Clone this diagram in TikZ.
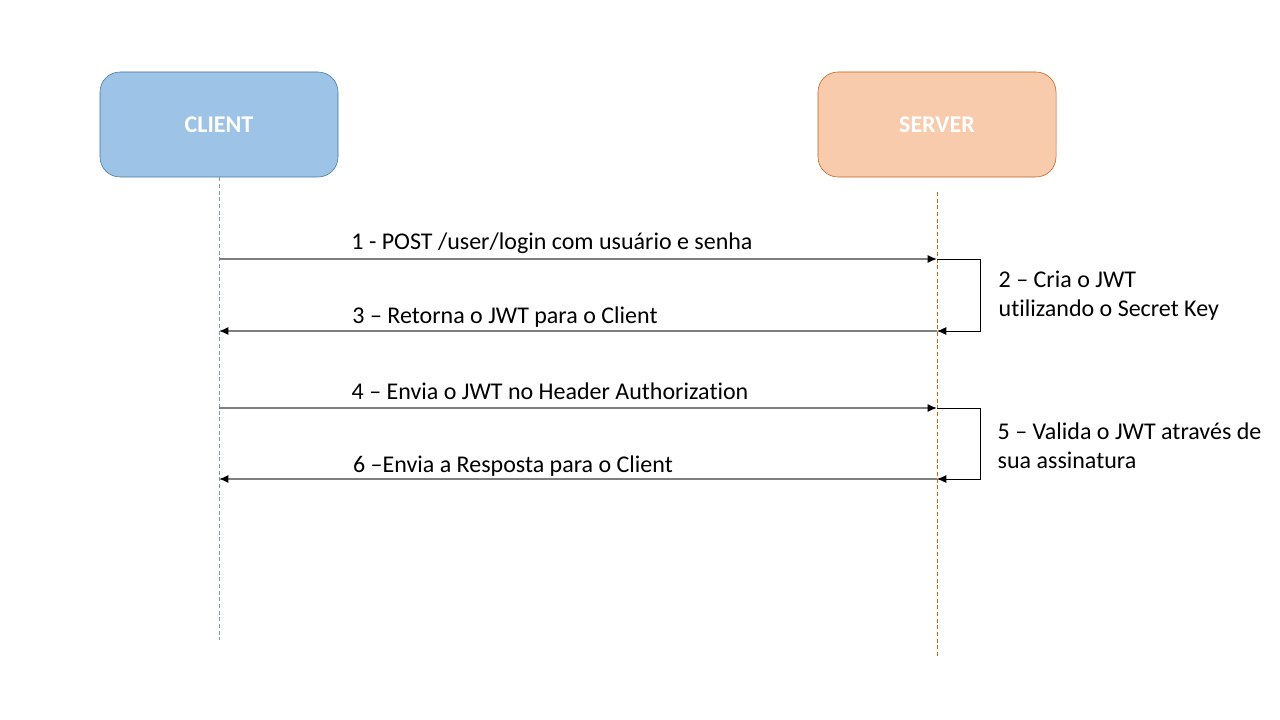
\documentclass[tikz,border=0pt]{standalone}
\usepackage{fontspec}
\setmainfont[Ligatures=NoCommon]{Carlito}
\usetikzlibrary{arrows.meta}
\definecolor{clientfill}{HTML}{9DC3E6}
\definecolor{clientline}{HTML}{41719C}
\definecolor{serverfill}{HTML}{F8CBAD}
\definecolor{serverline}{HTML}{C55A11}
\definecolor{msgline}{HTML}{7F7F7F}
\tikzset{
  actor/.style={rounded corners=15pt, minimum width=178.5pt, minimum height=78.75pt,
    text=white, font=\fontsize{18}{22}\selectfont\bfseries},
  lifeline/.style={line width=0.6pt, dash pattern=on 3pt off 2pt},
  msg/.style={line width=1.1pt, msgline, -{Latex[length=7pt,width=6pt,color=black]}},
  loopback/.style={line width=0.6pt, black, -{Latex[length=7pt,width=6pt]}},
  msglabel/.style={font=\fontsize{18}{22}\selectfont},
  notelabel/.style={font=\fontsize{18}{22}\selectfont, align=left, anchor=west}
}
\begin{document}
\begin{tikzpicture}[x=0.75pt,y=-0.75pt]
  \useasboundingbox (0,0) rectangle (1280,720);
  % participants
  \node[actor, fill=clientfill, draw=clientline] (client) at (219,124.5) {CLIENT};
  \node[actor, fill=serverfill, draw=serverline] (server) at (937,124.5) {SERVER};
  \coordinate (clientend) at (219,640);
  \coordinate (serverstart) at (937,192);
  \coordinate (serverend) at (937,657);
  \draw[lifeline, clientline!70!white] (client.south) -- (clientend);
  \draw[lifeline, serverline!80!orange] (serverstart) -- (serverend);
  % message points
  \coordinate (c1) at (219,259); \coordinate (s1) at (937,259);
  \coordinate (c3) at (219,331); \coordinate (s3) at (937,331);
  \coordinate (c4) at (219,408); \coordinate (s4) at (937,408);
  \coordinate (c6) at (219,479); \coordinate (s6) at (937,479);
  % login
  \draw[msg] (c1) -- (s1);
  \node[msglabel] (m1) at (552,243) {1 - POST /user/login com usuário e senha};
  \draw[loopback] (s1) -- ++(43,0) |- (s3);
  \node[notelabel] (n2) at (994,296) {2 – Cria o JWT\\utilizando o Secret Key};
  \draw[msg] (s3) -- (c3);
  \node[msglabel] (m3) at (505,317) {3 – Retorna o JWT para o Client};
  % request
  \draw[msg] (c4) -- (s4);
  \node[msglabel] (m4) at (550,391) {4 – Envia o JWT no Header Authorization};
  \draw[loopback] (s4) -- ++(43,0) |- (s6);
  \node[notelabel] (n5) at (993,446) {5 – Valida o JWT através de\\sua assinatura};
  \draw[msg] (s6) -- (c6);
  \node[msglabel] (m6) at (513,466) {6 –Envia a Resposta para o Client};
\end{tikzpicture}
\end{document}
